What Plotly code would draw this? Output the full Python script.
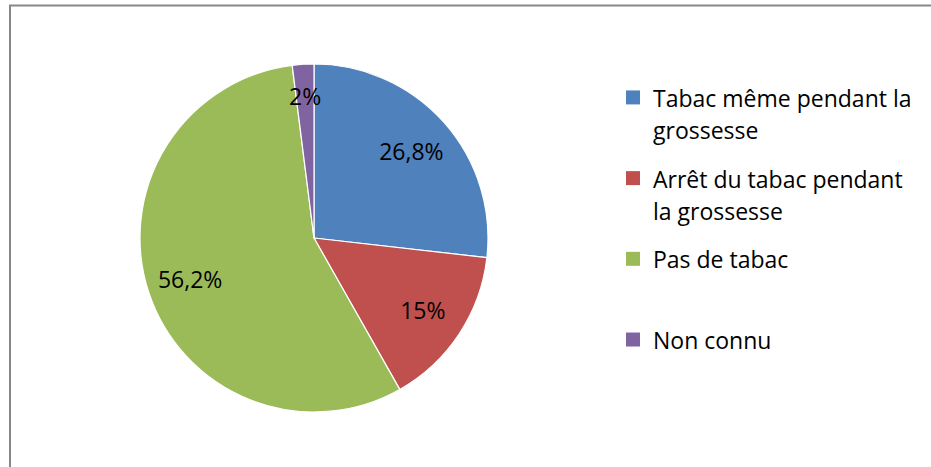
import plotly.graph_objects as go

categories = ["Tabac même pendant la<br>grossesse",
              "Arrêt du tabac pendant<br>la grossesse",
              "Pas de tabac",
              "Non connu"]
values = [26.8, 15, 56.2, 2]
value_texts = ["26,8%", "15%", "56,2%", "2%"]
colors = ["#4F81BD", "#C0504D", "#9BBB59", "#8064A2"]

W, H = 931, 467
cx, cy, r = 314, 238, 174
FONT = "Open Sans"


def dom(rad):
    return dict(x=[(cx - rad) / W, (cx + rad) / W],
                y=[(H - cy - rad) / H, (H - cy + rad) / H])


common = dict(labels=categories, values=values, sort=False,
              direction="clockwise", rotation=0, showlegend=False)

# coloured pie
pie_fill = go.Pie(
    **common,
    textinfo="none",
    marker=dict(colors=colors, line=dict(color="white", width=1.2)),
    domain=dom(r),
    hoverinfo="label+percent",
)

# text layer for the large slices (a ring pushes labels outward like the original)
big_texts = [t if v >= 5 else "" for t, v in zip(value_texts, values)]
pie_text = go.Pie(
    **common,
    text=big_texts,
    textinfo="text",
    textposition="inside",
    insidetextorientation="horizontal",
    hole=0.5,
    marker=dict(colors=["rgba(0,0,0,0)"] * len(values), line=dict(width=0)),
    insidetextfont=dict(color="black", size=23, family=FONT),
    domain=dom(r),
    hoverinfo="skip",
)

# text layer for the small slice
small_texts = [t if v < 5 else "" for t, v in zip(value_texts, values)]
pie_small = go.Pie(
    **common,
    text=small_texts,
    textinfo="text",
    textposition="inside",
    insidetextorientation="horizontal",
    marker=dict(colors=["rgba(0,0,0,0)"] * len(values), line=dict(width=0)),
    insidetextfont=dict(color="black", size=23, family=FONT),
    domain=dom(r * 0.87),
    hoverinfo="skip",
)

traces = [pie_fill, pie_text, pie_small]

# legend entries (one group each so they can be evenly spaced)
for i, (cat, col) in enumerate(zip(categories, colors)):
    name = '<span style="font-size:23px">' + cat + "</span>"
    if "<br>" not in cat:
        name += "<br> "
    traces.append(go.Scatter(
        x=[None], y=[None], mode="markers", name=name,
        marker=dict(symbol="square", size=14, color=col, line=dict(width=0)),
        legendgroup=f"g{i}", showlegend=True, hoverinfo="skip",
    ))

fig = go.Figure(traces)

fig.update_layout(
    width=W, height=H,
    margin=dict(l=0, r=0, t=0, b=0),
    paper_bgcolor="white",
    plot_bgcolor="white",
    font=dict(family=FONT, size=20, color="black"),
    uniformtext=dict(minsize=23, mode="show"),
    xaxis=dict(visible=False),
    yaxis=dict(visible=False),
    legend=dict(x=613 / W, y=(H - 75) / H, xanchor="left", yanchor="top",
                valign="top", font=dict(size=24.5, family=FONT),
                traceorder="grouped", tracegroupgap=14,
                bgcolor="rgba(0,0,0,0)"),
    shapes=[dict(type="rect", xref="paper", yref="paper",
                 x0=10 / W, x1=1.05, y0=-0.05, y1=1 - 5.5 / H,
                 line=dict(color="#878787", width=2), layer="below")],
)

fig.write_html("out.html", config={"displayModeBar": False},
               post_script="document.body.style.margin='0';")
